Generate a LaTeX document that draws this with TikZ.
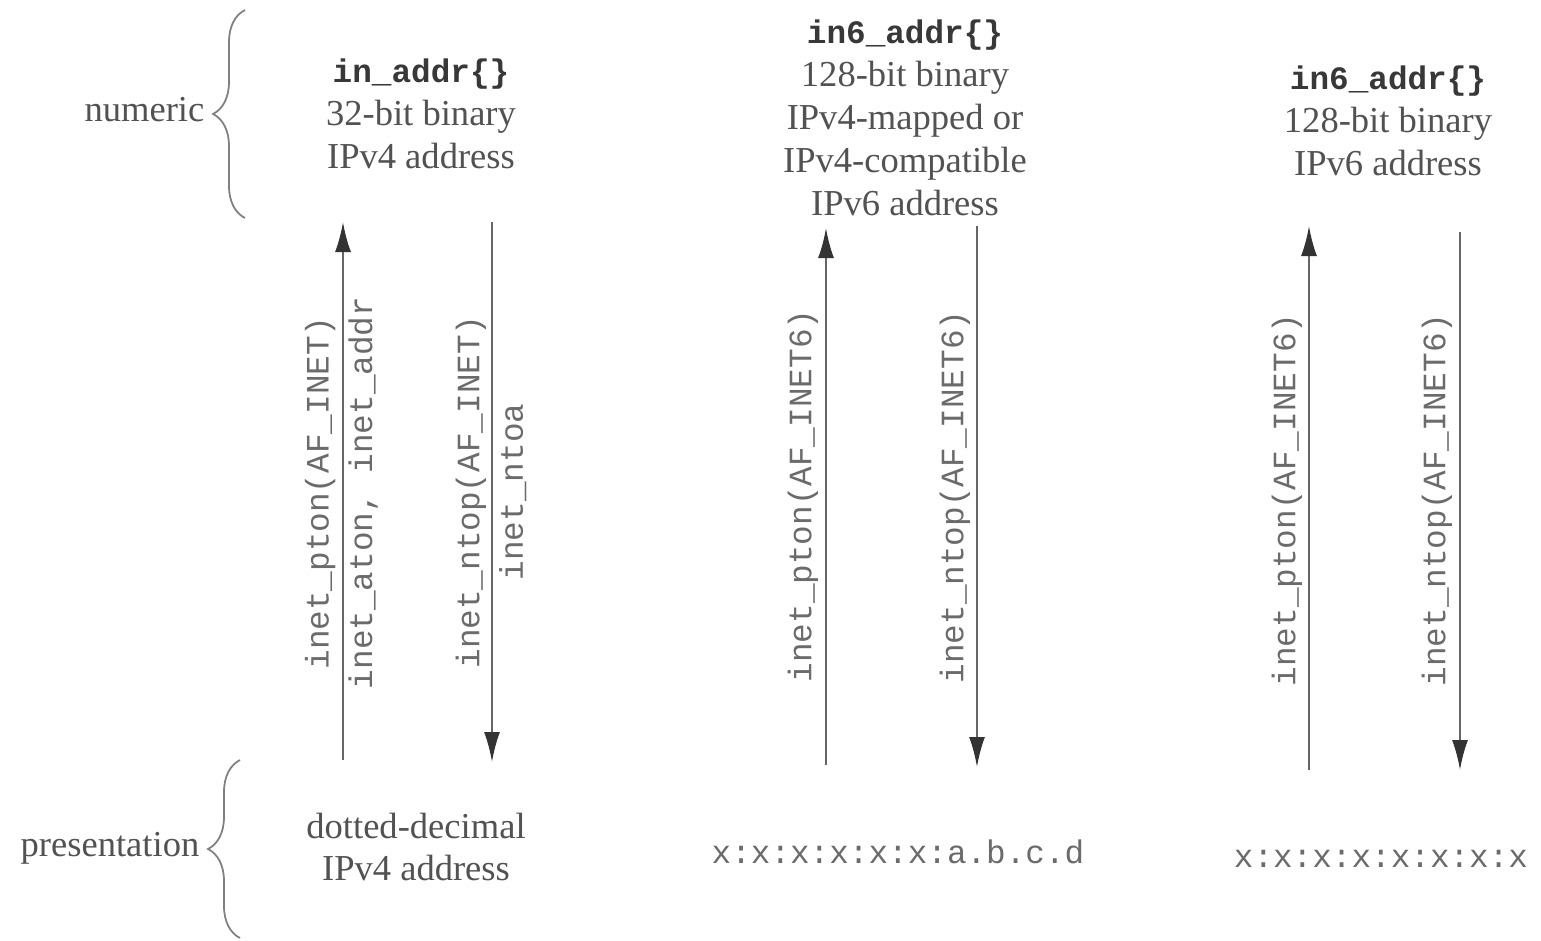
\documentclass[tikz,border=0pt]{standalone}
\usepackage{fontspec}
\setmainfont{Liberation Serif}
\setmonofont{Liberation Mono}
\usetikzlibrary{arrows.meta,decorations.pathreplacing}

\begin{document}
\begin{tikzpicture}[
        txt/.style={text=black!68, align=center, inner sep=0pt,
        font=\fontsize{10.4}{12.2}\selectfont},
        code/.style={text=black!58, inner sep=0pt,
        font=\ttfamily\fontsize{9.3}{12.4}\selectfont},
        fn/.style={code, align=center, rotate=90},
        conv/.style={draw=black!60, line width=0.6pt,
        -{Latex[length=3mm,width=1.6mm,color=black!80]}},
        brc/.style={draw=black!50, line width=0.5pt, decorate,
        decoration={brace, amplitude=3.2mm}},
        ]
        \useasboundingbox (0,0) rectangle (15.41,9.40);

        % level braces
        \draw [brc] (2.45,7.22) -- (2.45,9.30);
        \draw [brc] (2.40,0.02) -- (2.40,1.80);
        \node (numeric) [txt, anchor=east] at (2.05,8.30){numeric};
        \node (present) [txt, anchor=east] at (2.00,0.92){presentation};

        % numeric forms
        \node (bin4) [txt] at (4.21,8.26){\textbf{\ttfamily\color{black!78}\fontsize{9.3}{12.2}\selectfont in\_addr\{\}}\\32-bit binary\\IPv4 address};
        \node (bin46) [txt] at (9.05,8.22){\textbf{\ttfamily\color{black!78}\fontsize{9.3}{12.2}\selectfont in6\_addr\{\}}\\128-bit binary\\IPv4-mapped or\\IPv4-compatible\\IPv6 address};
        \node (bin6) [txt] at (13.88,8.19){\textbf{\ttfamily\color{black!78}\fontsize{9.3}{12.2}\selectfont in6\_addr\{\}}\\128-bit binary\\IPv6 address};

        % presentation forms
        \node (dd4) [txt] at (4.16,0.93){dotted-decimal\\IPv4 address};
        \node (txt46) [code, anchor=base] at (8.98,0.77){x:x:x:x:x:x:a.b.c.d};
        \node (txt6) [code, anchor=base] at (13.81,0.73){x:x:x:x:x:x:x:x};

        % arrow ends
        \coordinate (p4s) at (3.43,1.80);  \coordinate (p4e) at (3.43,7.18);
        \coordinate (n4s) at (4.92,7.18);  \coordinate (n4e) at (4.92,1.78);
        \coordinate (p46s) at (8.26,1.75); \coordinate (p46e) at (8.26,7.12);
        \coordinate (n46s) at (9.77,7.14); \coordinate (n46e) at (9.77,1.73);
        \coordinate (p6s) at (13.09,1.70); \coordinate (p6e) at (13.09,7.14);
        \coordinate (n6s) at (14.60,7.08); \coordinate (n6e) at (14.60,1.70);

        \draw [conv] (p4s) -- (p4e);
        \draw [conv] (n4s) -- (n4e);
        \draw [conv] (p46s) -- (p46e);
        \draw [conv] (n46s) -- (n46e);
        \draw [conv] (p6s) -- (p6e);
        \draw [conv] (n6s) -- (n6e);

        % function names
        \node (pton4) [fn] at (3.415,4.47){inet\_pton(AF\_INET)\\inet\_aton, inet\_addr};
        \node (ntop4) [fn] at (4.91,4.48){inet\_ntop(AF\_INET)\\inet\_ntoa};
        \node (pton46) [fn] at (8.03,4.44){inet\_pton(AF\_INET6)};
        \node (ntop46) [fn] at (9.55,4.43){inet\_ntop(AF\_INET6)};
        \node (pton6) [fn] at (12.87,4.40){inet\_pton(AF\_INET6)};
        \node (ntop6) [fn] at (14.37,4.40){inet\_ntop(AF\_INET6)};
    \end{tikzpicture}
\end{document}
